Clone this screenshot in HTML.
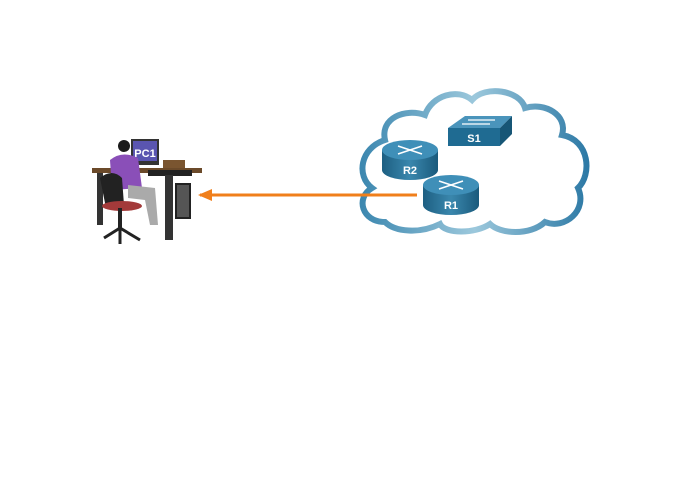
<!DOCTYPE html>
<html><head><style>body{margin:0;background:#fff}svg{display:block}</style></head><body>
<svg width="680" height="490" viewBox="0 0 680 490" xmlns="http://www.w3.org/2000/svg" font-family="Liberation Sans, sans-serif">
<defs>
<linearGradient id="cl" x1="0" x2="1"><stop offset="0" stop-color="#3d88b0"/><stop offset="0.5" stop-color="#9cc8dc"/><stop offset="1" stop-color="#2e7aa6"/></linearGradient>
<linearGradient id="rb" x1="0" x2="1"><stop offset="0" stop-color="#1d5f82"/><stop offset="0.5" stop-color="#3a87ad"/><stop offset="1" stop-color="#1a5a7c"/></linearGradient>
</defs>
<path d="M385,222 C362,222 355,198 372,188 C356,176 360,148 385,140 C380,118 405,108 425,115 C432,95 458,88 472,100 C485,85 520,90 525,108 C545,102 568,115 562,135 C590,140 592,175 578,188 C588,210 565,230 545,222 C530,236 500,234 490,224 C475,234 445,234 440,224 C420,234 395,232 385,222 Z" fill="#fff" stroke="url(#cl)" stroke-width="6"/>
<line x1="200" y1="195" x2="417" y2="195" stroke="#f07f1b" stroke-width="3"/>
<polygon points="198,195 212,189 212,201" fill="#f07f1b"/>
<!-- S1 -->
<polygon points="448,128 465,116 512,116 500,128" fill="#4a94bb"/>
<polygon points="448,128 500,128 500,146 448,146" fill="#1f6b92"/>
<polygon points="500,128 512,116 512,134 500,146" fill="#175676"/>
<g stroke="#fff" stroke-width="1.2"><line x1="468" y1="120" x2="495" y2="120"/><line x1="462" y1="124" x2="490" y2="124"/></g>
<text x="474" y="142" fill="#fff" font-size="11" font-weight="bold" text-anchor="middle">S1</text>
<!-- R2 -->
<path d="M382,150 L382,170 A28,10 0 0 0 438,170 L438,150 Z" fill="url(#rb)"/>
<ellipse cx="410" cy="150" rx="28" ry="10" fill="#3f8fb8"/>
<g stroke="#fff" stroke-width="1.5"><line x1="398" y1="146" x2="422" y2="154"/><line x1="398" y1="154" x2="422" y2="146"/></g>
<text x="410" y="174" fill="#fff" font-size="11" font-weight="bold" text-anchor="middle">R2</text>
<!-- R1 -->
<path d="M423,185 L423,205 A28,10 0 0 0 479,205 L479,185 Z" fill="url(#rb)"/>
<ellipse cx="451" cy="185" rx="28" ry="10" fill="#3f8fb8"/>
<g stroke="#fff" stroke-width="1.5"><line x1="439" y1="181" x2="463" y2="189"/><line x1="439" y1="189" x2="463" y2="181"/></g>
<text x="451" y="209" fill="#fff" font-size="11" font-weight="bold" text-anchor="middle">R1</text>
<!-- PC desk -->
<rect x="92" y="168" width="110" height="5" fill="#6b4a2a"/>
<rect x="148" y="170" width="44" height="6" fill="#222"/>
<rect x="97" y="173" width="6" height="52" fill="#333"/>
<rect x="165" y="175" width="8" height="65" fill="#333"/>
<rect x="163" y="160" width="22" height="8" fill="#7a5530"/>
<rect x="175" y="183" width="16" height="36" fill="#222"/>
<rect x="177" y="185" width="12" height="32" fill="#555"/>
<rect x="131" y="139" width="28" height="26" fill="#333"/>
<rect x="133" y="141" width="24" height="20" fill="#5a55b0"/>
<text x="145" y="157" fill="#fff" font-size="11" font-weight="bold" text-anchor="middle">PC1</text>
<circle cx="124" cy="146" r="6" fill="#1a1a1a"/>
<path d="M110,160 Q122,150 138,158 L142,188 L112,190 Z" fill="#8a4fb8"/>
<path d="M128,185 L155,188 L158,225 L150,225 L145,200 L128,198 Z" fill="#aaa"/>
<path d="M100,178 Q112,168 122,178 L124,205 L106,208 Z" fill="#222"/>
<ellipse cx="122" cy="206" rx="20" ry="5" fill="#a33a3a"/>
<rect x="118" y="208" width="4" height="20" fill="#222"/>
<path d="M104,238 L120,228 L140,240 M120,228 L120,244" stroke="#222" stroke-width="3" fill="none"/>
</svg>
</body></html>
